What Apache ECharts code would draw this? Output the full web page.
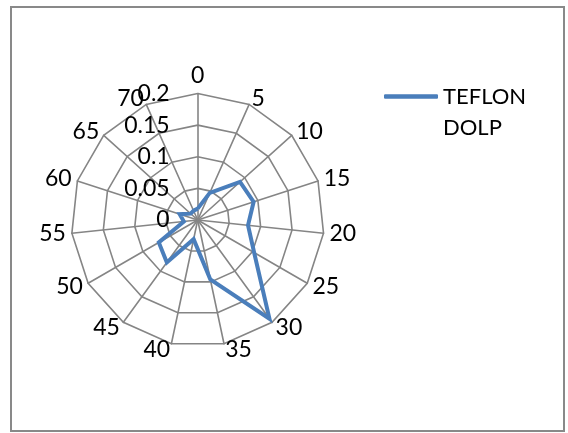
<!DOCTYPE html>
<html>
<head>
<meta charset="utf-8">
<script src="https://cdn.jsdelivr.net/npm/echarts@6/dist/echarts.min.js"></script>
<style>
  html, body { margin: 0; padding: 0; background: #fff; }
  #wrap { position: relative; width: 568px; height: 433px; overflow: hidden; }
  #frame { position: absolute; left: 10px; top: 6px; width: 551px; height: 422px;
           border: 2.5px solid #898989; }
  #chart { position: absolute; left: 0; top: 0; width: 568px; height: 433px; }
</style>
</head>
<body>
<div id="wrap">
  <div id="frame"></div>
  <div id="chart"></div>
</div>
<script>
// Angle categories (degrees), clockwise from the top
const categories = ['0', '5', '10', '15', '20', '25', '30', '35', '40', '45', '50', '55', '60', '65', '70'];
// Degree of linear polarisation per angle
const seriesName = 'TEFLON DOLP';
const dolp = [0.018, 0.047, 0.090, 0.093, 0.080, 0.103, 0.193, 0.096, 0.031, 0.083, 0.071, 0.022, 0.030, 0.015, 0.016];
// Radial scale
const radialMax = 0.2;
const radialStep = 0.05;

const FONT = 'Lato, "Open Sans", sans-serif';
const GRID = '#858585';
const CENTER = [197.7, 220];
const RADIUS = 126.5;

// ECharts lays radar indicators out counter-clockwise, so keep the first
// category on top and reverse the rest to run clockwise.
const order = [0].concat(categories.map((_, i) => i).slice(1).reverse());
const indicator = order.map(i => ({ name: categories[i], min: 0, max: radialMax }));
const values = order.map(i => dolp[i]);

const chart = echarts.init(document.getElementById('chart'), null, { renderer: 'canvas' });
chart.setOption({
  animation: false,
  backgroundColor: 'transparent',
  textStyle: { fontFamily: FONT },
  legend: {
    left: 384,
    top: 50,
    padding: 0,
    icon: 'roundRect',
    itemWidth: 54,
    itemHeight: 4.5,
    data: [seriesName],
    // wrapped name; the leading empty line keeps the first word level with the line icon
    formatter: name => '\n' + name.replace(' ', '\n'),
    textStyle: {
      fontFamily: FONT,
      fontSize: 22,
      color: '#000',
      lineHeight: 31
    }
  },
  radar: {
    center: CENTER,
    radius: RADIUS,
    startAngle: 90,
    shape: 'polygon',
    splitNumber: Math.round(radialMax / radialStep),
    indicator: indicator,
    axisNameGap: 6,
    axisName: { color: '#000', fontSize: 23, fontFamily: FONT },
    axisLine: { lineStyle: { color: GRID, width: 1.6 } },
    splitLine: { lineStyle: { color: GRID, width: 1.6 } },
    splitArea: { show: false },
    axisTick: { show: false },
    axisLabel: { show: false }
  },
  // polar overlay used only for the radial value labels on the top spoke
  polar: { center: CENTER, radius: RADIUS },
  angleAxis: {
    type: 'value', startAngle: 90, min: 0, max: 360,
    axisLine: { show: false }, axisTick: { show: false },
    axisLabel: { show: false }, splitLine: { show: false }
  },
  radiusAxis: {
    type: 'value', min: 0, max: radialMax, interval: radialStep,
    axisLine: { show: false }, axisTick: { show: false }, splitLine: { show: false },
    axisLabel: { margin: 28, fontSize: 23, color: '#000', fontFamily: FONT }
  },
  series: [{
    type: 'radar',
    name: seriesName,
    symbol: 'none',
    lineStyle: { color: '#4A7EBB', width: 4, join: 'miter', miterLimit: 10 },
    itemStyle: { color: '#4A7EBB' },
    data: [{ value: values, name: seriesName }]
  }]
});
</script>
</body>
</html>
